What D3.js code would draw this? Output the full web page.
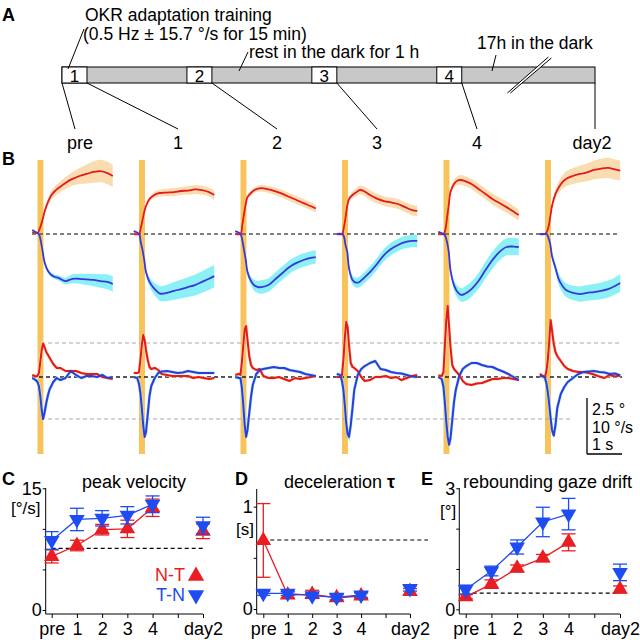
<!DOCTYPE html>
<html><head><meta charset="utf-8">
<script src="https://cdn.jsdelivr.net/npm/d3@7"></script>
<style>
body{margin:0;background:#fff}
svg{display:block}
text{font-family:"Liberation Sans",Arial,Helvetica,sans-serif}
</style></head>
<body><svg id="c" width="640" height="640"></svg>
<script>
// ---------------- DATA ----------------
const sessionLabels = ["pre","1","2","3","4","day2"];
const sessionTicks = ["pre","1","2","3","4","","day2"];
const trainingLabels = ["1","2","3","4"];
const trainMin = 15, restMin = 60, overnightShownMin = 80;

// Panel B: time grids (s)
const posTime = [-0.15,0,0.05,0.1,0.15,0.2,0.3,0.4,0.5,0.6,0.8,1.0,1.2,1.4,1.6,1.8,2.0,2.15];
const velTime = [-0.15,-0.05,0,0.04,0.08,0.12,0.16,0.2,0.25,0.3,0.35,0.45,0.55,0.65,0.8,0.95,1.1,1.25,1.4,1.55,1.7,1.85,2.0,2.15];
const stimDur = 0.17;

// eye position (deg), N-T (red) and T-N (blue)
const posRed = [
 [0.09,0.04,0.18,0.4,0.67,0.98,1.43,1.74,1.92,2.05,2.28,2.46,2.59,2.68,2.77,2.81,2.72,2.59],
 [0,0,0.27,0.62,0.98,1.25,1.56,1.7,1.79,1.83,1.85,1.87,1.92,1.94,1.99,1.96,1.87,1.74],
 [0,0,0.4,0.89,1.34,1.65,1.83,1.96,2.03,2.05,1.99,1.9,1.79,1.65,1.52,1.38,1.25,1.14],
 [0,0,0.27,0.71,1.25,1.56,1.74,1.85,1.96,1.94,1.74,1.58,1.47,1.41,1.34,1.2,1.07,1.03],
 [0,0,0.18,0.71,1.29,1.88,2.23,2.39,2.41,2.37,2.23,2.01,1.79,1.56,1.38,1.2,1.0,0.85],
 [0,0,0.09,0.31,0.76,1.25,1.79,2.1,2.32,2.46,2.59,2.68,2.75,2.86,2.92,2.95,2.88,2.83]
];
const posBlue = [
 [0.18,0.04,-0.04,-0.36,-0.8,-1.25,-1.65,-1.83,-1.92,-1.96,-2.1,-2.0,-2.0,-2.03,-2.05,-2.1,-2.14,-2.23],
 [0.13,0,-0.36,-0.71,-1.16,-1.7,-2.14,-2.37,-2.54,-2.66,-2.63,-2.54,-2.46,-2.37,-2.28,-2.14,-2.0,-1.88],
 [0.13,0,-0.27,-0.71,-1.16,-1.7,-2.1,-2.3,-2.37,-2.37,-2.28,-2.01,-1.74,-1.47,-1.29,-1.16,-1.07,-1.03],
 [0,0,-0.09,-0.49,-0.8,-1.52,-2.05,-2.17,-2.14,-2.0,-1.7,-1.34,-0.94,-0.67,-0.49,-0.36,-0.31,-0.31],
 [0.09,0,-0.09,-0.36,-0.8,-1.61,-2.28,-2.59,-2.72,-2.68,-2.46,-2.1,-1.61,-1.16,-0.8,-0.58,-0.56,-0.58],
 [0,0,0,-0.18,-0.45,-0.98,-1.52,-2.05,-2.32,-2.5,-2.63,-2.68,-2.63,-2.59,-2.54,-2.46,-2.32,-2.19]
];
const posRedSem = [
 [0.03,0.03,0.05,0.08,0.1,0.12,0.16,0.2,0.22,0.24,0.27,0.3,0.36,0.42,0.48,0.5,0.5,0.5],
 [0.03,0.03,0.05,0.06,0.08,0.1,0.12,0.13,0.15,0.16,0.17,0.18,0.18,0.19,0.2,0.2,0.2,0.22],
 [0.03,0.03,0.05,0.06,0.08,0.1,0.12,0.13,0.14,0.15,0.16,0.17,0.17,0.18,0.18,0.18,0.18,0.18],
 [0.03,0.03,0.05,0.06,0.08,0.1,0.15,0.18,0.2,0.2,0.22,0.22,0.22,0.22,0.22,0.22,0.24,0.24],
 [0.03,0.03,0.05,0.06,0.08,0.12,0.18,0.2,0.22,0.22,0.22,0.24,0.24,0.25,0.25,0.25,0.25,0.25],
 [0.03,0.03,0.05,0.08,0.1,0.15,0.2,0.25,0.3,0.33,0.36,0.38,0.4,0.42,0.44,0.45,0.45,0.45]
];
const posBlueSem = [
 [0.03,0.03,0.05,0.06,0.08,0.1,0.1,0.1,0.1,0.12,0.15,0.2,0.22,0.25,0.28,0.3,0.33,0.35],
 [0.03,0.03,0.05,0.08,0.1,0.15,0.2,0.25,0.3,0.33,0.36,0.4,0.42,0.44,0.46,0.48,0.5,0.5],
 [0.03,0.03,0.05,0.08,0.1,0.15,0.2,0.25,0.28,0.3,0.3,0.3,0.3,0.3,0.3,0.3,0.3,0.3],
 [0.03,0.03,0.05,0.08,0.1,0.15,0.2,0.22,0.24,0.25,0.26,0.27,0.28,0.28,0.28,0.28,0.28,0.28],
 [0.03,0.03,0.05,0.08,0.1,0.15,0.22,0.28,0.3,0.32,0.34,0.36,0.38,0.38,0.38,0.38,0.38,0.38],
 [0.03,0.03,0.05,0.08,0.1,0.15,0.2,0.25,0.28,0.3,0.32,0.34,0.35,0.36,0.37,0.38,0.38,0.4]
];
// eye velocity (deg/s)
const velRed = [
 [0.36,0.09,0.18,0.71,2.68,4.82,6.0,5.36,4.46,3.93,3.39,2.32,1.61,1.61,1.07,1.07,1.07,0.71,0.54,0.54,0.54,0,-0.18,-0.36],
 [0.71,0.71,0.89,3.04,5.71,7.5,6.61,4.82,3.04,1.79,1.43,1.61,1.25,0.54,0.36,0.18,0.18,0.18,0.18,-0.18,0,-0.18,-0.36,-0.18],
 [0.36,0.54,0.36,2.68,5.71,8.57,9.1,6.61,3.75,2.14,1.61,1.25,1.43,0.18,-0.18,-0.18,0,-0.36,-0.71,-0.18,-0.36,-0.18,0,0.18],
 [0,0,0.36,3.04,6.96,9.82,8.93,5.71,2.5,1.79,1.61,1.07,0,-0.71,-0.54,0,0,0.18,-0.18,0,-0.54,-0.18,0.18,0.36],
 [0.27,0.18,0.89,5.71,10.2,12.7,8.93,5.36,2.14,1.43,1.07,0.36,-0.71,-1.25,-1.43,-1.16,-1.07,-0.71,-0.36,-0.36,-0.18,-0.18,-0.36,-0.54],
 [0.54,0.18,0,1.07,3.04,6.25,10.2,8.39,5.89,4.46,3.75,2.86,1.96,1.43,1.07,0.89,0.89,0.71,0.45,0.09,-0.18,0.36,0.09,0.27]
];
const velBlue = [
 [-0.18,-0.54,-0.89,-1.61,-3.39,-5.89,-7.5,-6.43,-4.64,-3.21,-2.14,-0.89,-0.18,-0.54,-0.18,1.07,0.36,-0.18,0.18,0.18,0,0.36,-0.18,0],
 [0,-0.18,-1.25,-2.86,-5.54,-8.57,-10.7,-9.82,-6.61,-3.39,-1.61,-0.18,0.71,0.98,1.07,0.89,0.71,0.8,1.07,0.89,0.71,0.71,0.71,0.71],
 [0,-0.18,-0.18,-1.96,-5.0,-8.57,-10.7,-9.46,-6.43,-3.57,-1.43,0.54,1.25,1.43,1.61,1.79,1.61,1.61,1.25,1.07,0.89,0.54,0.36,0.18],
 [0.54,0.36,-0.71,-2.32,-5.0,-8.21,-10.2,-10.7,-8.57,-5.54,-2.32,0.36,1.43,1.96,2.5,2.86,1.43,1.25,0.89,0.71,0.63,0.36,0.09,0],
 [0,-0.36,-1.79,-4.64,-8.04,-10.7,-12.1,-10.9,-7.68,-4.46,-2.32,0.18,1.43,1.96,2.5,2.5,2.14,1.88,1.79,1.34,0.98,0.54,0,-0.54],
 [0.18,0.09,-0.18,-1.07,-2.68,-4.82,-7.32,-9.46,-10.5,-8.57,-5.54,-3.04,-1.79,-0.89,-0.18,0.54,0.89,0.98,1.07,0.89,0.8,0.54,0.63,0.27]
];
const velPreRef = [6.07, -7.5];

// Panel C: peak velocity (deg/s)
const peakNT = [6.6,7.95,9.9,10.0,12.6,9.7];
const peakNTsem = [0.8,0.65,0.65,1.07,1.07,0.9];
const peakTN = [8.57,11.16,11.3,11.67,13.03,10.4];
const peakTNsem = [1.09,1.38,0.95,1.07,1.03,1.03];
const peakRef = 7.6;
// Panel D: deceleration tau (s)
const tauNT = [0.67,0.137,0.143,0.11,0.127,0.17];
const tauNTsem = [0.36,0.03,0.04,0.035,0.03,0.03];
const tauTN = [0.153,0.153,0.13,0.114,0.137,0.2];
const tauTNsem = [0.02,0.02,0.02,0.025,0.025,0.025];
const tauRef = 0.674;
// Panel E: rebounding gaze drift (deg)
const driftNT = [0.31,0.625,1.015,1.27,1.66,0.495];
const driftNTsem = [0.05,0.105,0.085,0.09,0.21,0.085];
const driftTN = [0.49,0.95,1.545,2.165,2.36,0.915];
const driftTNsem = [0.11,0.12,0.175,0.365,0.39,0.205];
const driftRef = 0.4;

// ---------------- STYLE ----------------
const RED="#e5181d", BLUE="#3838d8", PEACH="#f9ddb0", CYAN="#8cf0f7", ORANGE="#f8c35b";
const SRED="#ea1d22", SBLUE="#1d4cf2";
const svg = d3.select("#c");

function txt(x,y,s,o={}){
  const t = svg.append("text").attr("x",x).attr("y",y).text(s)
    .attr("font-size",o.size||18).attr("fill",o.fill||"#000");
  if(o.bold) t.attr("font-weight","bold");
  if(o.anchor) t.attr("text-anchor",o.anchor);
  return t;
}
function seg(x1,y1,x2,y2,o={}){
  return svg.append("line").attr("x1",x1).attr("y1",y1).attr("x2",x2).attr("y2",y2)
    .attr("stroke",o.stroke||"#000").attr("stroke-width",o.w||1)
    .attr("stroke-dasharray",o.dash||null);
}

// ---------------- PANEL A ----------------
txt(2,21,"A",{bold:true,size:18});
const tl = d3.scaleLinear().domain([0, 4*trainMin+3*restMin+overnightShownMin]).range([62,595]);
const barTop=67, barBot=83;
svg.append("rect").attr("x",tl(0)).attr("y",barTop).attr("width",tl.range()[1]-tl(0)).attr("height",barBot-barTop)
  .attr("fill","#c8c8c8").attr("stroke","#000").attr("stroke-width",1);
trainingLabels.forEach((lab,k)=>{
  const s = k*(trainMin+restMin);
  svg.append("rect").attr("x",tl(s)).attr("y",barTop).attr("width",tl(s+trainMin)-tl(s)).attr("height",barBot-barTop)
    .attr("fill","#fff").attr("stroke","#000").attr("stroke-width",1);
  txt((tl(s)+tl(s+trainMin))/2, barBot-1.5, lab, {anchor:"middle",size:17});
});
// break mark
{
  const bx = tl(4*trainMin+3*restMin+overnightShownMin*0.5);
  svg.append("polygon").attr("points",`${bx-21},93 ${bx+20},57 ${bx+23},58 ${bx-18},93`).attr("fill","#fff");
  seg(bx-21,93,bx+20,57); seg(bx-18,93,bx+23,58);
}
txt(85,21,"OKR adaptation training",{size:17.5});
txt(83,40,"(0.5 Hz \u00b1 15.7 \u00b0/s for 15 min)",{size:17.5});
seg(84,29,68,69);
txt(249,58,"rest in the dark for 1 h",{size:17.5});
seg(248,52,239,71);
txt(477,49,"17h in the dark",{size:17.5});
seg(496,55,492,71);
// leader lines to sessions
const leaderFrom = [0, trainMin, (trainMin+restMin)+trainMin, 2*(trainMin+restMin)+trainMin, 3*(trainMin+restMin)+trainMin, tl.domain()[1]];
const leaderTo = [75,178,277,377,477,595];
const labelX = [80,178,277,377,477,592];
leaderFrom.forEach((m,i)=>seg(tl(m),barBot,leaderTo[i],129));
sessionLabels.forEach((s,i)=>txt(labelX[i],149,s,{anchor:"middle",size:18}));

// ---------------- PANEL B ----------------
txt(2,165,"B",{bold:true,size:18});
const colX = d3.scaleLinear().domain([0,5]).range([37.5,545]);
const pxPerSec = 35;
const yPos = d3.scaleLinear().domain([0,2.5]).range([234,178]);
const yVel = d3.scaleLinear().domain([0,10]).range([377,321]);
// stimulus bars
sessionLabels.forEach((s,i)=>{
  const xs = d3.scaleLinear().domain([0,1]).range([colX(i),colX(i)+pxPerSec]);
  svg.append("rect").attr("x",xs(0)).attr("y",160).attr("width",xs(stimDur)-xs(0)).attr("height",294).attr("fill",ORANGE);
});
// reference dashed lines
seg(32,yPos(0),617,yPos(0),{stroke:"#555",w:1.3,dash:"4,3"});
seg(48,yVel(velPreRef[0]),622,yVel(velPreRef[0]),{stroke:"#a8a8a8",w:1.2,dash:"4,3"});
seg(48,yVel(velPreRef[1]),573,yVel(velPreRef[1]),{stroke:"#a8a8a8",w:1.2,dash:"4,3"});
seg(32,yVel(0),622,yVel(0),{stroke:"#222",w:1.3,dash:"4,3"});

sessionLabels.forEach((s,i)=>{
  const xs = d3.scaleLinear().domain([0,1]).range([colX(i),colX(i)+pxPerSec]);
  const band = (vals,sem)=>d3.area().curve(d3.curveCatmullRom.alpha(0.5))
      .x((d,j)=>xs(posTime[j])).y0((d,j)=>yPos(vals[j]-sem[j])).y1((d,j)=>yPos(vals[j]+sem[j]))(posTime);
  const pline = vals=>d3.line().curve(d3.curveCatmullRom.alpha(0.5)).x((d,j)=>xs(posTime[j])).y((d,j)=>yPos(vals[j]))(posTime);
  const vline = vals=>d3.line().x((d,j)=>xs(velTime[j])).y((d,j)=>yVel(vals[j]))(velTime);
  svg.append("path").attr("d",band(posRed[i],posRedSem[i])).attr("fill",PEACH);
  svg.append("path").attr("d",band(posBlue[i],posBlueSem[i])).attr("fill",CYAN);
  svg.append("path").attr("d",pline(posRed[i])).attr("fill","none").attr("stroke",RED).attr("stroke-width",1.8);
  svg.append("path").attr("d",pline(posBlue[i])).attr("fill","none").attr("stroke",BLUE).attr("stroke-width",1.8);
  svg.append("path").attr("d",vline(velRed[i])).attr("fill","none").attr("stroke",PEACH).attr("stroke-width",3);
  svg.append("path").attr("d",vline(velBlue[i])).attr("fill","none").attr("stroke",CYAN).attr("stroke-width",3);
  svg.append("path").attr("d",vline(velRed[i])).attr("fill","none").attr("stroke",RED).attr("stroke-width",2).attr("stroke-linejoin","round");
  svg.append("path").attr("d",vline(velBlue[i])).attr("fill","none").attr("stroke",BLUE).attr("stroke-width",2).attr("stroke-linejoin","round");
});
// scale bar
{
  const sx = 587, sy = 454;
  const h = yVel(0)-yVel(10);
  seg(sx,sy,sx,sy-h,{w:1.3});
  seg(sx,sy,sx+pxPerSec,sy,{w:1.3});
  txt(592,415,"2.5 \u00b0",{size:16});
  txt(592,433,"10 \u00b0/s",{size:16});
  txt(592,450,"1 s",{size:16});
}

// ---------------- PANELS C, D, E ----------------
function statPanel(p){
  const g = svg.append("g");
  const x = d3.scaleLinear().domain([0,6]).range(p.xr);
  const y = d3.scaleLinear().domain(p.yd).range(p.yr);
  txt(p.letterX,485,p.letter,{bold:true,size:18});
  const t = txt(p.titleX,488,p.title,{size:18,anchor:p.titleAnchor||"start"});
  if(p.titleBold) t.append("tspan").attr("font-weight","bold").text(p.titleBold);
  txt(p.unitX,p.unitY,p.unit,{size:17});
  const xa = g.append("g").attr("transform",`translate(0,${p.axY})`)
    .call(d3.axisBottom(x).tickValues(d3.range(7)).tickFormat(i=>sessionTicks[i]).tickSize(4).tickPadding(4).tickSizeOuter(0));
  const ya = g.append("g").attr("transform",`translate(${p.axX},0)`)
    .call(d3.axisLeft(y).tickValues(p.yt).tickFormat(d=>p.yl.includes(d)?String(d):"").tickSize(3).tickPadding(1).tickSizeOuter(0));
  [xa,ya].forEach(a=>{a.select(".domain").remove(); a.selectAll("text").attr("font-size",18).attr("font-family","'Liberation Sans',Arial,sans-serif").attr("fill","#000");
    a.selectAll("line").attr("stroke","#000");});
  g.append("line").attr("x1",p.axX).attr("x2",p.axX).attr("y1",p.yTop).attr("y2",p.axY).attr("stroke","#000");
  g.append("line").attr("x1",p.axX).attr("x2",x(6)).attr("y1",p.axY).attr("y2",p.axY).attr("stroke","#000");
  g.append("line").attr("x1",x(0)).attr("x2",p.refEnd||x(6)).attr("y1",y(p.ref)).attr("y2",y(p.ref))
    .attr("stroke","#000").attr("stroke-width",1.1).attr("stroke-dasharray","4,3");
  const series = [{m:p.nt,s:p.ntsem,c:SRED,rot:0},{m:p.tn,s:p.tnsem,c:SBLUE,rot:180}];
  series.forEach(sr=>{
    const idx = d3.range(6);
    const xi = i=>x(i===5?6:i);
    g.selectAll(null).data(idx).join("line").attr("x1",xi).attr("x2",xi)
      .attr("y1",i=>y(sr.m[i]-sr.s[i])).attr("y2",i=>y(sr.m[i]+sr.s[i])).attr("stroke",sr.c).attr("stroke-width",1.3);
    [-1,1].forEach(sg=>{
      g.selectAll(null).data(idx).join("line").attr("x1",i=>xi(i)-7).attr("x2",i=>xi(i)+7)
        .attr("y1",i=>y(sr.m[i]+sg*sr.s[i])).attr("y2",i=>y(sr.m[i]+sg*sr.s[i])).attr("stroke",sr.c).attr("stroke-width",1.3);
    });
    g.append("path").attr("d",d3.line().x(i=>x(i)).y(i=>y(sr.m[i]))(d3.range(5)))
      .attr("fill","none").attr("stroke",sr.c).attr("stroke-width",1.3);
    g.selectAll(null).data(idx).join("path").attr("d",d3.symbol(d3.symbolTriangle,105)())
      .attr("transform",i=>`translate(${xi(i)},${y(sr.m[i])}) rotate(${sr.rot})`).attr("fill",sr.c);
  });
  return {x,y};
}
statPanel({letter:"C",letterX:2,title:"peak velocity",titleX:134,titleAnchor:"middle",unit:"[\u00b0/s]",unitX:11,unitY:514,
  xr:[51.7,203],yd:[0,15],yr:[610,488.3],axX:45.7,axY:614,yTop:488,yt:[0,5,10,15],yl:[0,15],
  ref:peakRef,nt:peakNT,ntsem:peakNTsem,tn:peakTN,tnsem:peakTNsem});
statPanel({letter:"D",letterX:235,title:"deceleration ",titleBold:"\u03c4",titleX:284,unit:"[s]",unitX:236,unitY:535,
  xr:[263.3,410],yd:[0,1.2],yr:[609,486.2],axX:256.7,axY:614,yTop:489,yt:[0,0.5,1],yl:[0,1],refEnd:428,
  ref:tauRef,nt:tauNT,ntsem:tauNTsem,tn:tauTN,tnsem:tauTNsem});
statPanel({letter:"E",letterX:421,title:"rebounding gaze drift",titleX:463,unit:"[\u00b0]",unitX:440,unitY:517,
  xr:[465.7,620],yd:[0,3],yr:[609.3,488.3],axX:459.3,axY:614,yTop:488,yt:[0,1,2,3],yl:[0,3],
  ref:driftRef,nt:driftNT,ntsem:driftNTsem,tn:driftTN,tnsem:driftTNsem});
// legend (panel C)
txt(185,581,"N-T",{anchor:"end",fill:SRED,size:18});
txt(185,601,"T-N",{anchor:"end",fill:SBLUE,size:18});
svg.append("path").attr("d",d3.symbol(d3.symbolTriangle,115)()).attr("transform","translate(196,576)").attr("fill",SRED);
svg.append("path").attr("d",d3.symbol(d3.symbolTriangle,115)()).attr("transform","translate(196,595) rotate(180)").attr("fill",SBLUE);
</script></body></html>
